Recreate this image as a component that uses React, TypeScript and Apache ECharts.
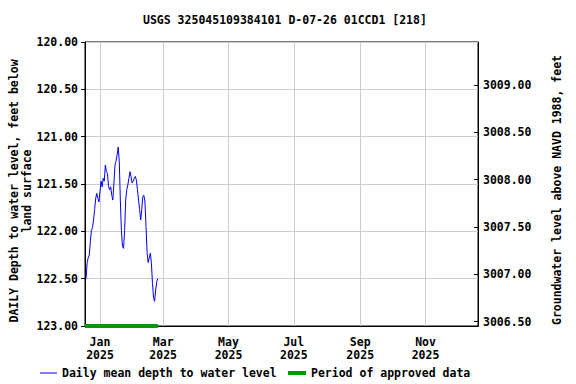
import React, { useEffect, useRef } from "react";
import * as echarts from "echarts";

const TITLE = "USGS 325045109384101 D-07-26 01CCD1 [218]";
const LEFT_NAME = "DAILY Depth to water level, feet below\nland surface";
const RIGHT_NAME = "Groundwater level above NAVD 1988, feet";
const SERIES_NAME = "Daily mean depth to water level";
const APPROVED_NAME = "Period of approved data";

const dates: string[] = [
  "2024-12-19", "2024-12-20", "2024-12-21", "2024-12-22", "2024-12-23", "2024-12-24", "2024-12-25",
  "2024-12-26", "2024-12-27", "2024-12-28", "2024-12-29", "2024-12-30", "2024-12-31",
  "2025-01-01", "2025-01-02", "2025-01-03", "2025-01-04", "2025-01-05", "2025-01-06", "2025-01-07",
  "2025-01-08", "2025-01-09", "2025-01-10", "2025-01-11", "2025-01-12", "2025-01-13", "2025-01-14",
  "2025-01-15", "2025-01-16", "2025-01-17", "2025-01-18", "2025-01-19", "2025-01-20", "2025-01-21",
  "2025-01-22", "2025-01-23", "2025-01-24", "2025-01-25", "2025-01-26", "2025-01-27", "2025-01-28",
  "2025-01-29", "2025-01-30", "2025-01-31",
  "2025-02-01", "2025-02-02", "2025-02-03", "2025-02-04", "2025-02-05", "2025-02-06", "2025-02-07",
  "2025-02-08", "2025-02-09", "2025-02-10", "2025-02-11", "2025-02-12", "2025-02-13", "2025-02-14",
  "2025-02-15", "2025-02-16", "2025-02-17", "2025-02-18", "2025-02-19", "2025-02-20", "2025-02-21",
  "2025-02-22", "2025-02-23", "2025-02-24",
];

const depths: number[] = [
  122.5, 122.33, 122.28, 122.25, 122.11, 121.99, 121.96, 121.88, 121.77, 121.65, 121.6, 121.65, 121.69,
  121.58, 121.47, 121.53, 121.44, 121.47, 121.3, 121.37, 121.39, 121.53, 121.56, 121.53, 121.62, 121.67,
  121.49, 121.3, 121.26, 121.19, 121.11, 121.26, 121.67, 121.99, 122.16, 122.18, 121.99, 121.67, 121.56,
  121.51, 121.44, 121.37, 121.42, 121.49, 121.47, 121.44, 121.42, 121.46, 121.56, 121.67, 121.77, 121.88,
  121.77, 121.63, 121.62, 121.69, 121.95, 122.23, 122.33, 122.28, 122.23, 122.33, 122.55, 122.7, 122.74,
  122.62, 122.53, 122.5,
];

const approvedStart = "2024-12-18";
const approvedEnd = "2025-02-24";
const approvedLevel = 123;

const xMin = "2024-12-18";
const xMax = "2025-12-20";
const monthTicks: string[] = ["2025-01-01", "2025-03-01", "2025-05-01", "2025-07-01", "2025-09-01", "2025-11-01"];
const monthNames: string[] = ["Jan", "Feb", "Mar", "Apr", "May", "Jun", "Jul", "Aug", "Sep", "Oct", "Nov", "Dec"];

const leftMin = 120;
const leftMax = 123;
const datumOffset = 3129.455;
const rightTicks: number[] = [3006.5, 3007, 3007.5, 3008, 3008.5, 3009];

const FONT = "DejaVu Sans Mono";
const FS = 11.5;

const ts = (s: string) => new Date(s + "T00:00:00Z").getTime();

export default function App() {
  const ref = useRef<HTMLDivElement>(null);
  useEffect(() => {
    if (!ref.current) return;
    const chart = echarts.init(ref.current, undefined, { renderer: "svg" });
    const textStyle = { fontFamily: FONT, fontWeight: "bold" as const, fontSize: FS, color: "#000" };
    chart.setOption({
      animation: false,
      backgroundColor: "#fff",
      title: {
        text: TITLE,
        left: 138,
        top: 9,
        textStyle: { ...textStyle },
      },
      grid: {
        left: 85,
        right: 98,
        top: 42,
        bottom: 58,
        show: true,
        borderColor: "#000",
        borderWidth: 1,
        backgroundColor: "transparent",
        containLabel: false,
        outerBoundsMode: "none",
      },
      legend: [
        {
          left: 40,
          top: 367,
          padding: 0,
          icon: "rect",
          itemWidth: 17,
          itemHeight: 1,
          textStyle: { ...textStyle },
          data: [SERIES_NAME],
        },
        {
          left: 288,
          top: 367,
          padding: 0,
          icon: "rect",
          itemWidth: 18,
          itemHeight: 4,
          textStyle: { ...textStyle },
          data: [APPROVED_NAME],
        },
      ],
      xAxis: {
        type: "value",
        min: ts(xMin),
        max: ts(xMax),
        axisLine: { show: true, lineStyle: { color: "#000" } },
        axisTick: { show: false, customValues: monthTicks.map(ts) },
        splitLine: { show: true, lineStyle: { color: "#cccccc", width: 1 } },
        axisLabel: {
          customValues: monthTicks.map(ts),
          ...textStyle,
          lineHeight: 13,
          margin: 9,
          formatter: (v: number) => {
            const d = new Date(v);
            return monthNames[d.getUTCMonth()] + "\n" + d.getUTCFullYear();
          },
        },
      },
      yAxis: [
        {
          type: "value",
          inverse: true,
          min: leftMin,
          max: leftMax,
          interval: 0.5,
          position: "left",
          name: LEFT_NAME,
          nameLocation: "middle",
          nameRotate: 90,
          nameGap: 52,
          nameMoveOverlap: false,
          nameTextStyle: { ...textStyle, lineHeight: 13, padding: [0, 14, 0, 0] },
          axisLine: { show: true, lineStyle: { color: "#000" } },
          axisTick: { show: true, length: 4, lineStyle: { color: "#000" } },
          axisLabel: { ...textStyle, margin: 7, formatter: (v: number) => v.toFixed(2) },
          splitLine: { show: true, lineStyle: { color: "#cccccc", width: 1 } },
        },
        {
          type: "value",
          min: datumOffset - leftMax,
          max: datumOffset - leftMin,
          position: "right",
          name: RIGHT_NAME,
          nameLocation: "middle",
          nameRotate: 90,
          nameGap: 73,
          nameTextStyle: { ...textStyle, padding: [0, 12, 0, 0] },
          axisLine: { show: true, lineStyle: { color: "#000" } },
          axisTick: { show: true, inside: true, length: 4, customValues: rightTicks, lineStyle: { color: "#000" } },
          axisLabel: { ...textStyle, margin: 5, customValues: rightTicks, formatter: (v: number) => v.toFixed(2) },
          splitLine: { show: false },
        },
      ],
      series: [
        {
          name: SERIES_NAME,
          type: "line",
          yAxisIndex: 0,
          symbol: "none",
          lineStyle: { color: "#0000ff", width: 1 },
          itemStyle: { color: "#0000ff" },
          data: dates.map((d, i) => [ts(d), depths[i]]),
        },
        {
          name: APPROVED_NAME,
          type: "line",
          yAxisIndex: 0,
          symbol: "none",
          clip: false,
          lineStyle: { color: "#009900", width: 4 },
          itemStyle: { color: "#009900" },
          data: [
            [ts(approvedStart), approvedLevel],
            [ts(approvedEnd), approvedLevel],
          ],
        },
      ],
    });
    return () => chart.dispose();
  }, []);
  return <div ref={ref} style={{ width: 576, height: 384, position: "absolute", left: 0, top: 0 }} />;
}
